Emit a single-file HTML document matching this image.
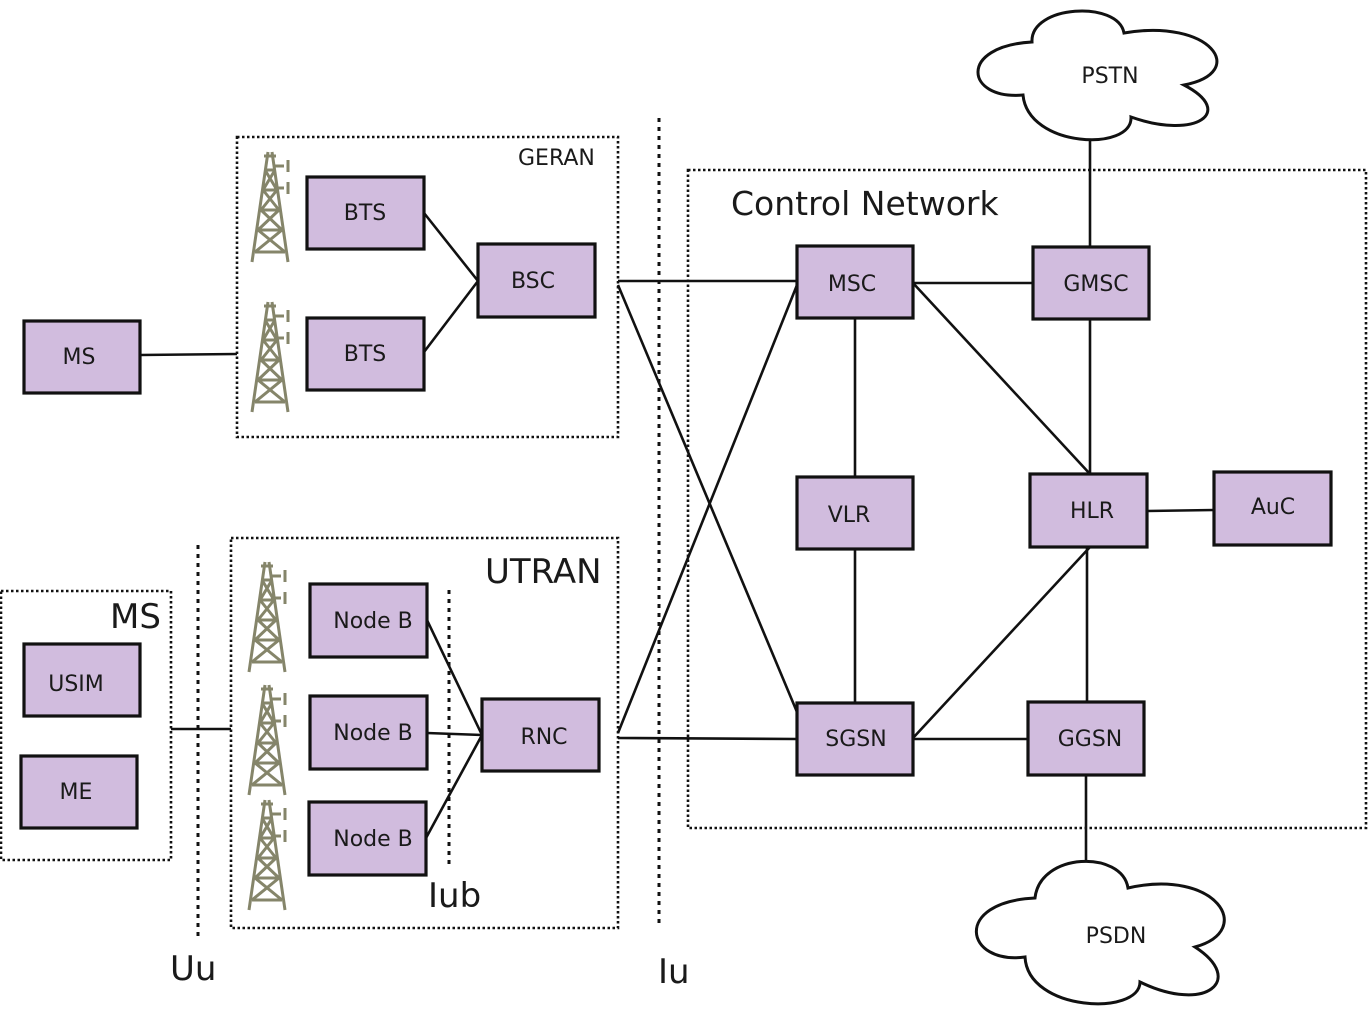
<!DOCTYPE html>
<html><head><meta charset="utf-8"><style>
html,body{margin:0;padding:0;background:#fff}
svg{display:block}
text{font-family:"DejaVu Sans","Liberation Sans",sans-serif;fill:#1a1a1a}
.b{fill:#d1bcde;stroke:#111;stroke-width:3.2}
.l{stroke:#111;stroke-width:2.6;fill:none}
.d{fill:none;stroke:#111;stroke-width:2.6;stroke-dasharray:2.5,2.5}
.v{stroke:#111;stroke-width:3;stroke-dasharray:4,5}
.t{font-size:22px;text-anchor:middle}
.tw{stroke:#85856a;stroke-width:3;fill:none}
</style></head><body>
<svg width="1371" height="1017" viewBox="0 0 1371 1017" xmlns="http://www.w3.org/2000/svg">
<defs>
<g id="tw">
 <path class="tw" d="M16,0 L0,110 M20,0 L36,110 M12,4 h12 M3,100 h30 M6,78 h24 M9,58 h18 M11,38 h14 M13,18 h10 M3,100 L30,78 M33,100 L6,78 M6,78 L27,58 M30,78 L9,58 M9,58 L25,38 M27,58 L11,38 M11,38 L23,18 M25,38 L13,18"/>
 <path class="tw" stroke-width="6" d="M22,14 h10 M22,36 h10"/>
 <path class="tw" stroke-width="4" d="M36,8 v12 M36,30 v12"/>
</g>
</defs>
<rect class="d" x="237" y="137" width="381" height="300"/>
<rect class="d" x="231" y="538" width="387" height="390"/>
<rect class="d" x="1" y="591" width="170" height="269"/>
<rect class="d" x="688" y="170" width="678" height="658"/>
<line class="v" x1="198" y1="545" x2="198" y2="940"/>
<line class="v" x1="659" y1="118" x2="659" y2="928"/>
<line class="v" x1="449" y1="590" x2="449" y2="865"/>
<g class="l">
<line x1="140" y1="355" x2="237" y2="354"/>
<line x1="424" y1="213" x2="478" y2="281"/>
<line x1="424" y1="352" x2="478" y2="281"/>
<line x1="618" y1="281" x2="797" y2="281"/>
<line x1="618" y1="285" x2="797" y2="712"/>
<line x1="618" y1="733" x2="797" y2="285"/>
<line x1="618" y1="738" x2="797" y2="739"/>
<line x1="427" y1="620" x2="482" y2="735"/>
<line x1="427" y1="733" x2="482" y2="735"/>
<line x1="426" y1="838" x2="482" y2="735"/>
<line x1="171" y1="729" x2="231" y2="729"/>
<line x1="913" y1="283" x2="1033" y2="283"/>
<line x1="855" y1="318" x2="855" y2="477"/>
<line x1="913" y1="283" x2="1090" y2="474"/>
<line x1="1090" y1="319" x2="1090" y2="474"/>
<line x1="1090" y1="130" x2="1090" y2="247"/>
<line x1="1147" y1="511" x2="1214" y2="510"/>
<line x1="855" y1="549" x2="855" y2="703"/>
<line x1="913" y1="738" x2="1090" y2="547"/>
<line x1="1087" y1="547" x2="1087" y2="702"/>
<line x1="913" y1="739" x2="1028" y2="739"/>
<line x1="1086" y1="775" x2="1086" y2="862"/>
</g>
<path fill="#fff" stroke="#111" stroke-width="3" d="M1032,42 C1030,5 1118,0 1124,33 C1210,18 1250,72 1184,85 C1236,112 1196,140 1131,117 C1133,152 1028,148 1023,95 C965,100 958,46 1032,42 Z"/>
<text class="t" x="1110" y="83">PSTN</text>
<path fill="#fff" stroke="#111" stroke-width="3" d="M1035,898 C1040,852 1122,850 1128,888 C1216,868 1256,930 1195,947 C1246,980 1206,1014 1140,982 C1140,1016 1028,1012 1025,957 C965,965 952,902 1035,898 Z"/>
<text class="t" x="1116" y="943">PSDN</text>
<use href="#tw" x="252" y="152"/>
<use href="#tw" x="252" y="302"/>
<use href="#tw" x="249" y="562"/>
<use href="#tw" x="249" y="685"/>
<use href="#tw" x="249" y="800"/>
<rect class="b" x="24" y="321" width="116" height="72"/><text class="t" x="79" y="364">MS</text>
<rect class="b" x="307" y="177" width="117" height="72"/><text class="t" x="365" y="220">BTS</text>
<rect class="b" x="307" y="318" width="117" height="72"/><text class="t" x="365" y="361">BTS</text>
<rect class="b" x="478" y="244" width="117" height="73"/><text class="t" x="533" y="288">BSC</text>
<rect class="b" x="24" y="644" width="116" height="72"/><text class="t" x="76" y="691">USIM</text>
<rect class="b" x="21" y="756" width="116" height="72"/><text class="t" x="76" y="799">ME</text>
<rect class="b" x="310" y="584" width="117" height="73"/><text class="t" x="373" y="628">Node B</text>
<rect class="b" x="310" y="696" width="117" height="73"/><text class="t" x="373" y="740">Node B</text>
<rect class="b" x="309" y="802" width="117" height="73"/><text class="t" x="373" y="846">Node B</text>
<rect class="b" x="482" y="699" width="117" height="72"/><text class="t" x="544" y="744">RNC</text>
<rect class="b" x="797" y="246" width="116" height="72"/><text class="t" x="852" y="291">MSC</text>
<rect class="b" x="1033" y="247" width="116" height="72"/><text class="t" x="1096" y="291">GMSC</text>
<rect class="b" x="797" y="477" width="116" height="72"/><text class="t" x="849" y="522">VLR</text>
<rect class="b" x="1030" y="474" width="117" height="73"/><text class="t" x="1092" y="518">HLR</text>
<rect class="b" x="1214" y="472" width="117" height="73"/><text class="t" x="1273" y="514">AuC</text>
<rect class="b" x="797" y="703" width="116" height="72"/><text class="t" x="856" y="746">SGSN</text>
<rect class="b" x="1028" y="702" width="116" height="73"/><text class="t" x="1090" y="746">GGSN</text>
<text x="518" y="165" style="font-size:22px">GERAN</text>
<text x="731" y="215" style="font-size:33px">Control Network</text>
<text x="485" y="583" style="font-size:34px">UTRAN</text>
<text x="110" y="628" style="font-size:34px">MS</text>
<text x="428" y="907" style="font-size:34px">Iub</text>
<text x="170" y="980" style="font-size:34px">Uu</text>
<text x="658" y="983" style="font-size:34px">Iu</text>
</svg>
</body></html>
